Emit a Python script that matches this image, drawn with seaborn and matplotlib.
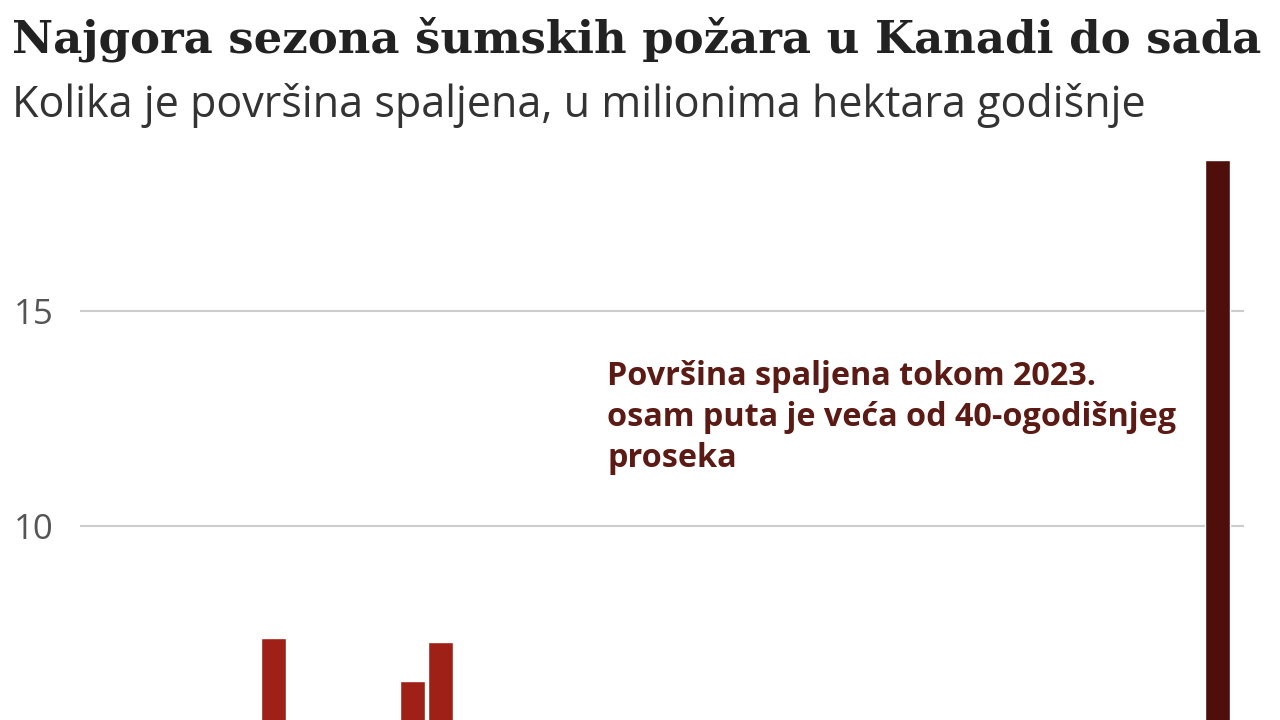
import matplotlib
matplotlib.use("Agg")
import matplotlib.pyplot as plt
import seaborn as sns
import pandas as pd

# Površina spaljena u Kanadi, milioni hektara godišnje
years = list(range(1983, 2024))
burned = [1.3, 0.76, 0.76, 1.0, 1.2, 1.35, 7.4, 0.93, 1.5, 0.87,
          1.9, 6.4, 7.3, 1.8, 0.62, 4.7, 1.7, 0.64, 0.65, 2.8,
          1.6, 3.2, 1.7, 2.1, 1.7, 1.7, 0.76, 3.2, 2.6, 1.9,
          4.2, 4.6, 3.9, 1.4, 3.4, 2.3, 1.8, 0.22, 4.3, 1.6,
          18.5]
highlight_year = 2023
# samo podeoci koji se vide na (odsecenoj) slici
y_ticks = [10, 15]

title = "Najgora sezona šumskih požara u Kanadi do sada"
subtitle = "Kolika je površina spaljena, u milionima hektara godišnje"
note = "Površina spaljena tokom 2023.\nosam puta je veća od 40-ogodišnjeg\nproseka"

RED = "#9e2016"
DARK = "#4e0f0a"
W, H = 1280, 720


def px(x, y):
    """pikseli (od gornjeg levog ugla) -> koordinate figure"""
    return x / W, 1 - y / H


def fit_text(fig, x, y, s, width, size, **kw):
    """Postavi tekst i podesi velicinu fonta da zauzme zadatu sirinu."""
    t = fig.text(*px(x, y), s, fontsize=size, va="baseline", ha="left", **kw)
    r = fig.canvas.get_renderer()
    w = t.get_window_extent(renderer=r).width
    t.set_fontsize(size * width / w)
    return t


df = pd.DataFrame({"year": years, "burned": burned})
df["year"] = df["year"].astype(str)
colors = [DARK if y == highlight_year else RED for y in years]

sns.set_style("white")
plt.rcParams["font.family"] = ["Open Sans", "DejaVu Sans"]

fig = plt.figure(figsize=(12.8, 7.2), dpi=100)
# os je veca od slike: nula je ispod donje ivice (slika je odsecena)
zero_px = 956.6
unit_px = 43.06
ymax = 19
left, right = 80, 1244
ax = fig.add_axes([left / W, (H - zero_px) / H, (right - left) / W, ymax * unit_px / H])

sns.barplot(data=df, x="year", y="burned", hue="year", palette=colors,
            legend=False, width=0.9, saturation=1, ax=ax, zorder=3)

ax.set_xlim(-0.98, len(years) - 1 + 0.97)
ax.set_ylim(0, ymax)
ax.set_yticks(y_ticks)
ax.set_yticklabels([str(v) for v in y_ticks])
ax.yaxis.grid(True, color="#cccccc", linewidth=1.5, zorder=0)
ax.set_axisbelow(True)
ax.tick_params(axis="y", length=0, pad=19, labelsize=25, labelcolor="#555555")
ax.set_xticks([])
ax.set_xlabel("")
ax.set_ylabel("")
for s in ax.spines.values():
    s.set_visible(False)

fit_text(fig, 12, 52, title, 1250, 30, family=["DejaVu Serif"],
         fontweight="bold", color="#222222")
fit_text(fig, 12, 117, subtitle, 1134, 28, color="#333333")

t = fit_text(fig, 607, 385, note.split("\n")[1], 568, 22, fontweight="bold",
             color="#5c1a14")
t.remove()
fs = t.get_fontsize()
for i, line in enumerate(note.split("\n")):
    fig.text(*px(607, 385 + i * 41), line, fontsize=fs, fontweight="bold",
             color="#5c1a14", va="baseline", ha="left")

fig.savefig("out.png", dpi=100)
